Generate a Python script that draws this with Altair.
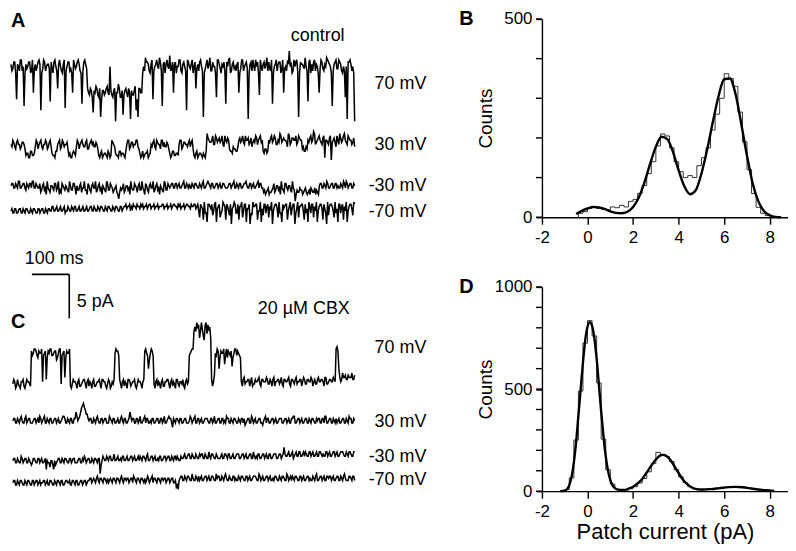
import altair as alt
import pandas as pd

FONT = "Liberation Sans"

# ---------------- single-channel traces (pA) ----------------
# one character per sample; LEVELS index * 0.25 - 2.0 = current in pA
# *_M: samples every 5 ms; *_H: the samples read half-way between them
LEVELS = "0123456789abcdefghijklmnopqrstuvwxyzABCDEFGHIJKLMNOPQRSTUVWXYZ"

A70_M = ("xvyhwzuexw" "yukxwzcvyw" "xgvywmzuxd" "wyvkxwzufyx"
         "mjlbkmi9lj" "mkwjl7kmia" "lkm8jlc9mk"
         "wAyuxhwzvy" "eyxwBvkywz" "uxwcyvzwmx" "yw9vzxuywi" "zvxyfwAuyw"
         "xkvzwy8xuw" "zyjwxvAyuf" "wzxyvkwyDx" "uwz9yxvwgz" "xyuwkzvxAy"
         "wexzvyuwi8" "yxw7")
A70_H = ("uytxuzwtvy" "tzvuyxtzux" "vytzuxwtzu" "yutzvyxtuzv"
         "kmilnjmhlk" "njlimkoilj" "mikljnhmkt"
         "uyxtzuxwAu" "xtzvuyxtwz" "tyuzwxtyvu" "zutxvAuwtz" "xtwuyztxvu"
         "ytzuxvtyzu" "wtzuyxuvzt" "xuytzvuxwt" "zyutxwAuyt" "uzxtvyuwzx"
         "tuyvzxtuwy" "zutx")

A30_M = ("fhegfdgf" "ab9ca" "egfhdfgeh" "bac" "fhegfg" "a9bb" "egfhegdfhgef"
         "ab9bac9" "hf" "bacab9" "fhegfhe" "ba9bca" "fgehfdhgef" "bacab"
         "fhegfgeh" "ab9bab9" "kh" "gjfihgjehi" "dcedc" "hgjfhigehjfig" "cdb"
         "higjfhkgihejgihfjh" "dce" "higlfhjgi9hfjgiehkgjhfihge")
A30_H = ("egdhfegd" "b9cab" "hdgefhdge" "a9c" "gdhefd" "b9ca" "hdgfehdgfegd"
         "9cab9ba" "ge" "a9cbac" "hdgefhd" "9cab9b" "ehdgfheegd" "9caba"
         "hdgfehgd" "9cab9ac" "ig" "hfjgihfjgh" "cbdce" "ihgjhfiggihjh" "bdc"
         "gjhifgjhhgkfihjgih" "ecd" "gjhkgihfjhgi8hgjfihkgjhfig")

AM30_M = ("8978a7896897a78"
          "7586475869" "7458675869" "4685764859" "758647596" "85" "7"
          "527"
          "7586476859" "6748597586" "475968"
          "8979878a78" "9789878978" "a897898798" "7898a78978" "9879878a97"
          "54645" "758647596857" "16" "56465546545"
          "8978a78979" "878a798978")
AM30_H = ("9797a797979a797"
          "9697a68796" "a69786a697" "8697a69687" "a69786a69" "76" "8"
          "456"
          "9687a69786" "a69687a697" "86a697"
          "9797979797" "7979797a79" "9797979797" "7979797979" "a797979797"
          "65756" "9687a69786a6" "45" "76574675764"
          "9797979797" "7979a79797")

AM70_M = ("7686786787" "6787687867" "8797878786" "7878978787" "8789787898"
          "7898789879" "8989789898" "9898a89898" "9a89898a98" "9898a989a8"
          "a49362a85a" "2947a39519" "a6394a2815" "9a3725a948" "19a4628a39"
          "5a1849a362" "9a4729a381" "5a9462a937" "29a5a")
AM70_H = ("8686868686" "8686868686" "8797979797" "9797979797" "9797979797"
          "9797979797" "9a9a9a9a9a" "a9a9a9a9a9" "9a9a9a9a9a" "a9a9a9a9a9"
          "7a8b6a9a7b" "8a6b9a7a8b" "6a9b7a8a6b" "9a7b8a6a9b" "7a8b6a9a7b"
          "8a6b9a7a8b" "6a9b7a8a6b" "9a7b8a6a9b" "7a8b6")

C70_M = ("8978697898" "nmolnm9manolmnko8mbnm"
         "7898978a89" "7897898a97" "8978" "mnl" "8978a98978989" "nmfmn"
         "8978979a8978a898798" "lno" "yAzwxsAzy" "a9" "mofnmhonlgmonl"
         "9a89a9789a" "8a99a89a79" "a98a9a8a9a" "89a9a8a9a9" "8a9a9b89a9" "a"
         "on" "babcabbac")
C70_H = ("a6a79a6a97" "lonkmolnkmolnjmolnkmo"
         "6a96a79a6a" "96a79a6a96" "a69a" "ona" "6a96a79a6a96a" "oljol"
         "6a96a79a6a96a79a6a9" "mow" "wytAuzvxt" "7c" "lnkmolkmnkolmk"
         "7b9a7b8a9b" "7a9b8a7b9a" "8b7a9b7a8b" "9a7b8a9b7a" "8b9a7b8a9b" "9"
         "pf" "9dbacbdab")

C30_M = ("8978987a89" "7898798a78" "9789878a97" "8979" "c" "8" "aegdb"
         "8978987989" "7a89787989" "78" "c"
         "8979878a97" "8978979878" "a958989789" "7898a79878" "9879878979"
         "8a97898789" "7689798789" "78a9789878" "9789879a78" "9878978987"
         "8979a78978" "9878978a97" "8")
C30_H = ("9797a79797" "7979a79797" "9797979a79" "7979" "a" "9" "cfeb9"
         "9797a79797" "7979797a79" "79" "a"
         "9797a79797" "7979797a79" "9797979797" "7a79797979" "9797a79797"
         "7979797979" "9797a79797" "6979797979" "9797979a79" "7979797979"
         "9797a79797" "7979797979" "8")

CM30_M = ("8978798978" "69879878" "475846"
          "8978987989" "7897898978" "989" "2"
          "8989a89898" "9a8989a989" "89a9a89a98" "9a89a9a89a" "898"
          "9a9ab9a9a9" "ab9a9aba9a" "9a9bab9a9a" "b9aba9ab9a" "ab9aba9b9a" "b9aba"
          "e"
          "abab9bacab" "abacbabacb" "bacbabcbab" "cbabcbac")
CM30_H = ("9797a79797" "79797979" "878687"
          "9797979797" "7979a79797" "979" "6"
          "a8a8a8b8a8" "8a8a8a8a8a" "a8a8b8a8a8" "8a8a8a8a8a" "a8a"
          "9b9b9b9b9b" "b9b9c9b9b9" "9b9b9b9b9b" "b9b9b9b9c9" "9b9b9b9b9b" "b9b9b"
          "b"
          "acacacacac" "cacacacaca" "acacacacac" "cacacaca")

CM70_M = ("7867876787" "6878767876" "8767878678" "7687867878" "7"
          "8988989898" "9889898989" "8989a89898" "9898a98989" "898989"
          "754"
          "9a89a98989" "a989a98a98" "9a89a9898a" "989a98a989" "a98a989a98"
          "9a989a98a9" "89a98a989a" "989a89a98a" "9a989a89a9" "8a9a8")
CM70_H = ("8686868686" "8686878686" "8686868687" "8686868686" "8"
          "9797a79797" "7979797a79" "9797979797" "7a79797979" "979797"
          "868"
          "a8a8a8b8a8" "8a8a8a8a8b" "a8a8b8a8a8" "8a8a8a8a8a" "a8b8a8a8a8"
          "8a8a8a8b8a" "a8a8a8a8a8" "8a8b8a8a8a" "a8a8a8a8b8" "8a8a8")

TRACE_NAMES = ["A 70", "A 30", "A -30", "A -70", "C 70", "C 30", "C -30", "C -70"]
TRACE_MAIN = [A70_M, A30_M, AM30_M, AM70_M, C70_M, C30_M, CM30_M, CM70_M]
TRACE_HALF = [A70_H, A30_H, AM30_H, AM70_H, C70_H, C30_H, CM30_H, CM70_H]
TRACE_START_MS = [0, 0, 0, 0, 5, 5, 5, 5]
TRACE_END_MS = 920
TRACE_LABELS = ["70 mV", "30 mV", "-30 mV", "-70 mV", "70 mV", "30 mV", "-30 mV", "-70 mV"]

# layout (vertical stacking of traces, in pA units of the trace axis)
TRACE_BASE = [42.58, 37.92, 34.97, 32.35, 12.35, 8.15, 3.60, 1.33]
LABEL_Y = [46.56, 39.62, 34.97, 32.01, 16.44, 8.03, 4.06, 1.44]

SCALE_BAR_MS = 100
SCALE_BAR_PA = 5

# ---------------- amplitude histograms ----------------
BIN_WIDTH = 0.2
B_START = -0.4
B_COUNTS = [10, 14, 22, 24, 22, 20, 18, 26, 24, 30, 26, 40, 45, 60, 80,
            110, 140, 180, 210, 205, 175, 140, 115, 100, 105, 100, 130, 150, 175, 220,
            260, 300, 362, 350, 330, 265, 190, 120, 60, 25, 10, 4]
FIT_B_X = [-0.5, -0.25, 0, 0.25, 0.5, 0.75, 1, 1.25, 1.5, 1.75, 2, 2.25, 2.5, 2.75,
           3, 3.25, 3.5, 3.75, 4, 4.25, 4.5, 4.75, 5, 5.25, 5.5, 5.75, 6, 6.25,
           6.5, 6.75, 7, 7.25, 7.5, 7.75, 8, 8.25, 8.5]
FIT_B_Y = [8, 16, 22, 26, 25, 21, 15, 11, 10, 14, 26, 50, 88, 135, 178, 203, 197, 165,
           118, 78, 58, 68, 110, 170, 240, 305, 348, 350, 310, 235, 155, 85, 40, 15,
           5, 1, 0]

D_START = -1.0
D_COUNTS = [8, 65, 250, 490, 725, 835, 760, 530, 255, 105, 35, 10, 6, 5, 12,
            22, 40, 62, 95, 135, 190, 180, 170, 145, 105, 70, 42, 22, 12, 6,
            6, 10, 12, 14, 16, 18, 20, 22, 20, 18, 15, 10, 8, 5, 3]
FIT_D_X = [-1.2, -1.0, -0.9, -0.8, -0.7, -0.6, -0.5, -0.4, -0.3, -0.2, -0.1, 0.0, 0.1,
           0.2, 0.3, 0.4, 0.5, 0.6, 0.7, 0.8, 0.9, 1.0, 1.2, 1.4, 1.6, 1.8, 2.0, 2.2,
           2.4, 2.6, 2.8, 3.0, 3.2, 3.3, 3.4, 3.6, 3.8, 4.0, 4.2, 4.4, 4.6, 4.8, 5.0,
           5.4, 5.8, 6.2, 6.5, 6.8, 7.2, 7.6, 8.0, 8.2]
FIT_D_Y = [0, 2, 10, 30, 70, 140, 240, 370, 500, 630, 740, 805, 828, 810, 750, 650,
           520, 390, 270, 170, 100, 55, 15, 6, 6, 12, 22, 38, 60, 92, 125, 155, 175,
           178, 176, 158, 125, 88, 55, 32, 17, 10, 8, 10, 15, 20, 21, 19, 13, 7, 3, 1]

X_TICKS = [-2, 0, 2, 4, 6, 8]
COUNT_STEP = 100
COUNT_LABEL_STEP = 500


def decode(code):
    return [LEVELS.index(c) * 0.25 - 2.0 for c in code]


rows = []
for name, main, half, t0, base in zip(TRACE_NAMES, TRACE_MAIN, TRACE_HALF,
                                       TRACE_START_MS, TRACE_BASE):
    mv, hv = decode(main), decode(half)
    dt = (TRACE_END_MS - t0) / (len(mv) - 1)
    seq = 0
    for k, v in enumerate(mv):
        rows.append({"trace": name, "t": t0 + k * dt, "y": base + v, "s": seq})
        seq += 1
        if k < len(mv) - 1 and k < len(hv):
            rows.append({"trace": name, "t": t0 + (k + 0.5) * dt, "y": base + hv[k], "s": seq})
            seq += 1
traces_df = pd.DataFrame(rows)

X_T = alt.Scale(domain=[0, 1112], nice=False, zero=False)
Y_T = alt.Scale(domain=[0, 54], nice=False, zero=False)


def tx(field="t"):
    return alt.X(f"{field}:Q", scale=X_T, axis=None)


def ty(field="y"):
    return alt.Y(f"{field}:Q", scale=Y_T, axis=None)


traces = alt.Chart(traces_df).mark_line(color="#000000", strokeWidth=1.5).encode(
    x=tx(), y=ty(), detail="trace:N", order="s:Q")

labels_df = pd.DataFrame({"text": TRACE_LABELS, "t": [1112] * 8, "y": LABEL_Y})
labels = alt.Chart(labels_df).mark_text(
    align="right", baseline="middle", font=FONT, fontSize=18, color="black"
).encode(x=tx(), y=ty(), text="text:N")

cond_df = pd.DataFrame({"text": ["control", "20 \u00b5M CBX"], "t": [893, 907], "y": [52.1, 20.9]})
conds = alt.Chart(cond_df).mark_text(
    align="right", baseline="middle", font=FONT, fontSize=18, color="black"
).encode(x=tx(), y=ty(), text="text:N")

letters_df = pd.DataFrame({"text": ["A", "C"], "t": [0, 0], "y": [53.77, 19.45]})
letters = alt.Chart(letters_df).mark_text(
    align="left", baseline="middle", font=FONT, fontSize=20, fontWeight="bold", color="black"
).encode(x=tx(), y=ty(), text="text:N")

bar_t0, bar_y0 = 56, 24.85
bar_df = pd.DataFrame({
    "t": [bar_t0, bar_t0 + SCALE_BAR_MS],
    "t2": [bar_t0 + SCALE_BAR_MS, bar_t0 + SCALE_BAR_MS],
    "y": [bar_y0, bar_y0],
    "y2": [bar_y0, bar_y0 - SCALE_BAR_PA],
})
bar = alt.Chart(bar_df).mark_rule(color="black", strokeWidth=1.6).encode(
    x=tx(), x2="t2:Q", y=ty(), y2="y2:Q")

bar_txt_df = pd.DataFrame({"text": [f"{SCALE_BAR_MS} ms", f"{SCALE_BAR_PA} pA"],
                           "t": [37, 176], "y": [26.56, 21.67]})
bar_txt = alt.Chart(bar_txt_df).mark_text(
    align="left", baseline="middle", font=FONT, fontSize=18, color="black"
).encode(x=tx(), y=ty(), text="text:N")

left = alt.layer(traces, labels, conds, letters, bar, bar_txt).properties(
    width=417, height=475)


def hist_frame(start, counts):
    edges = [start + i * BIN_WIDTH for i in range(len(counts) + 1)]
    xs = [edges[0]] + edges[:-1] + [edges[-1]]
    ys = [0] + list(counts) + [0]
    return pd.DataFrame({"x": xs, "y": ys, "i": list(range(len(xs)))})


AXIS_STYLE = dict(domainColor="black", domainWidth=1.4, tickColor="black", tickWidth=1.4,
                  labelColor="black", labelFont=FONT, labelFontSize=17, grid=False,
                  labelOverlap=False, titleFont=FONT, titleColor="black",
                  titleFontWeight="normal")


def hist_panel(start, counts, fx, fy, ymax, height, letter, xtitle):
    xs = alt.Scale(domain=[-2, 8.8], nice=False, zero=False)
    ys = alt.Scale(domain=[0, ymax], nice=False)
    x_axis = alt.Axis(values=X_TICKS, labelExpr="'' + datum.value", tickSize=7,
                      labelPadding=5, labelFlush=False, **AXIS_STYLE,
                      **({"title": xtitle, "titleFontSize": 22, "titlePadding": 3} if xtitle else {"title": ""}))
    y_axis = alt.Axis(values=list(range(0, ymax + 1, COUNT_LABEL_STEP)),
                      labelExpr="'' + datum.value",
                      tickSize=6, labelPadding=4, labelFlush=False, title="Counts",
                      titleFontSize=19, titleX=-57, titleY=height / 2, titleAngle=270,
                      titleAlign="center", titleBaseline="middle", **AXIS_STYLE)
    hist = alt.Chart(hist_frame(start, counts)).mark_line(
        interpolate="step-after", color="#333333", strokeWidth=1
    ).encode(x=alt.X("x:Q", scale=xs, axis=x_axis), y=alt.Y("y:Q", scale=ys, axis=y_axis),
             order="i:Q")
    fit = alt.Chart(pd.DataFrame({"x": fx, "y": fy})).mark_line(
        interpolate="monotone", color="black", strokeWidth=2.4
    ).encode(x=alt.X("x:Q", scale=xs), y=alt.Y("y:Q", scale=ys))
    minor = alt.Chart(pd.DataFrame({"v": list(range(0, ymax + 1, COUNT_STEP))})).mark_rule(
        color="black", strokeWidth=1.4
    ).encode(y=alt.Y("v:Q", scale=ys), x=alt.value(-6), x2=alt.value(0))
    let = alt.Chart(pd.DataFrame({"text": [letter], "x": [-2], "y": [ymax]})).mark_text(
        align="left", baseline="middle", font=FONT, fontSize=20, fontWeight="bold",
        color="black", dx=-83, dy=0
    ).encode(x=alt.X("x:Q", scale=xs), y=alt.Y("y:Q", scale=ys), text="text:N")
    return alt.layer(hist, fit, minor, let).properties(width=247, height=height)


panel_b = hist_panel(B_START, B_COUNTS, FIT_B_X, FIT_B_Y, 500, 199, "B", None)
panel_d = hist_panel(D_START, D_COUNTS, FIT_D_X, FIT_D_Y, 1000, 205, "D", "Patch current (pA)")

right = alt.vconcat(panel_b, panel_d, spacing=70, bounds="flush")
chart = alt.hconcat(left, right, spacing=116, bounds="flush").properties(
    padding={"left": 0, "top": 0, "right": 0, "bottom": 0}
).configure(font=FONT).configure_view(strokeWidth=0)

chart.save("out.html", embed_options={"renderer": "svg", "actions": False})
